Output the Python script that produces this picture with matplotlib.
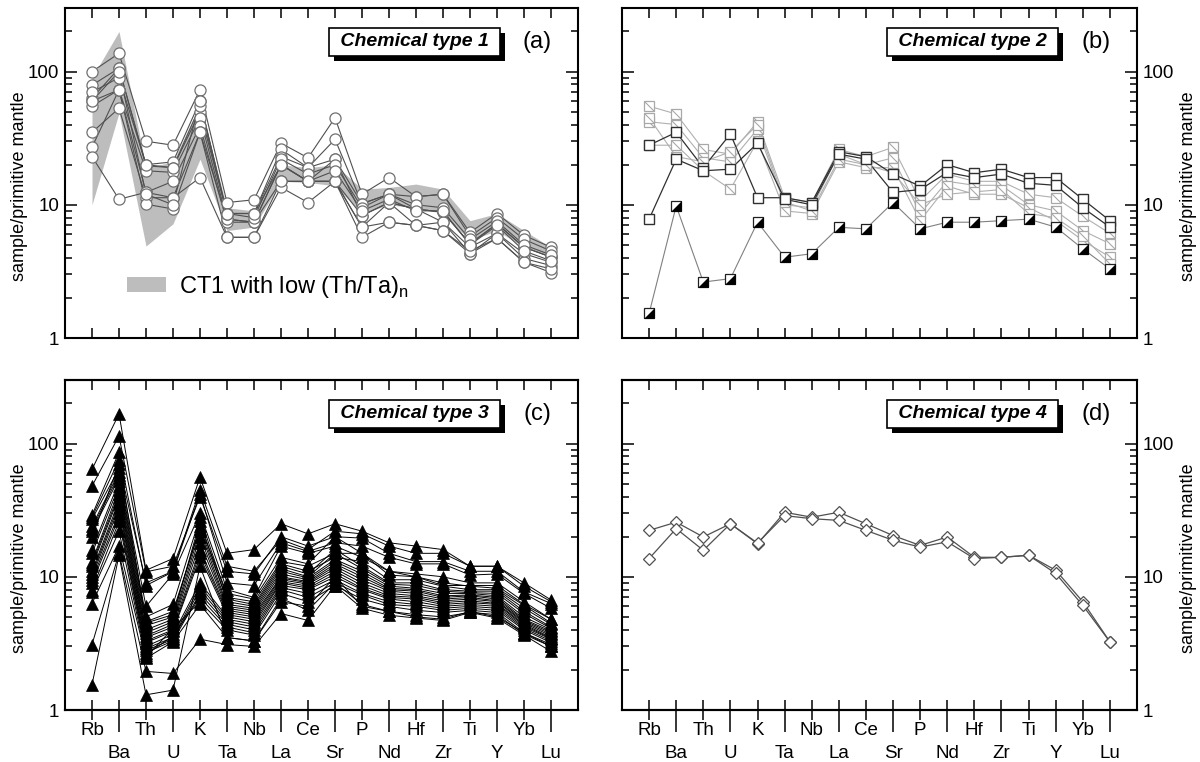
import matplotlib
matplotlib.use("Agg")
import matplotlib.pyplot as plt
from matplotlib.patches import Patch, Rectangle
from matplotlib.ticker import NullFormatter

plt.rcParams['font.family'] = ['Liberation Sans', 'DejaVu Sans']
plt.rcParams['mathtext.fontset'] = 'custom'
plt.rcParams['mathtext.rm'] = 'Liberation Sans'

# Elements (x axis)
elements = ["Rb", "Ba", "Th", "U", "K", "Ta", "Nb", "La", "Ce", "Sr",
            "P", "Nd", "Hf", "Zr", "Ti", "Y", "Yb", "Lu"]

# Chemical type 1 samples
ct1 = [
    [100, 137, 30, 28, 73, 10.4, 10.9, 29, 22.5, 45, 12, 16, 11.5, 12, 6.2, 8.6, 5.9, 4.8],
    [79, 106, 20, 21, 60, 8.6, 8.6, 26, 19, 31, 10.2, 12, 11.5, 12, 5.8, 8.0, 5.5, 4.5],
    [63, 106, 19.6, 19, 50, 8.6, 8.6, 23, 19, 22, 10.2, 12, 9.3, 8.8, 5.1, 7.2, 4.8, 4.05],
    [60, 73, 18, 17.5, 45, 7.8, 7.4, 20, 15, 22, 8.3, 10.4, 9.3, 8.8, 5.1, 7.2, 4.8, 4.05],
    [55, 73, 12.4, 15, 39, 7.4, 7.4, 20, 15, 15, 8.3, 10.4, 9.3, 7.4, 4.8, 6.1, 4.3, 3.7],
    [35, 53, 11.3, 11.3, 35, 7.8, 7.4, 15, 15, 15, 6.8, 10.4, 7.0, 7.4, 4.3, 6.1, 3.95, 3.5],
    [27, 73, 10.1, 9.3, 35, 5.7, 5.7, 13.5, 10.4, 15, 5.7, 7.4, 7.0, 6.4, 4.3, 5.6, 3.7, 3.1],
    [23, 11, 12.4, 11.3, 16, 5.7, 5.7, 15, 15, 15, 6.8, 7.4, 7.0, 6.4, 4.5, 5.6, 3.7, 3.3],
    [70, 90, 20, 19, 55, 8.6, 8.0, 22, 17, 20, 9.5, 12, 10, 9.5, 5.5, 7.5, 5.0, 4.2],
    [60, 100, 12, 10, 60, 8.6, 8.6, 20, 15, 18, 9.0, 11, 9.0, 9.0, 5.0, 7.0, 4.5, 3.8],
]
# CT1 with low (Th/Ta)n envelope
band_hi = [90, 200, 19, 21, 57, 9.5, 9.0, 20, 19, 20, 13.1, 13.5, 14.3, 13.1, 7.6, 8.6, 6.4, 4.8]
band_lo = [10, 49, 4.9, 7.2, 22, 6.4, 6.8, 15, 14.7, 13.9, 8.6, 10, 9.5, 8.6, 5.4, 6.4, 4.8, 4.05]

# Chemical type 2 samples
ct2_dark = [
    [28, 35, 19, 34, 11.3, 11.3, 10.4, 25, 23, 17, 13.8, 20, 17.4, 18.5, 16, 16, 11, 7.6],
    [7.8, 22, 18, 18.5, 29, 11, 10, 24, 22, 12.4, 13, 17.5, 16, 17, 14.5, 14, 9.5, 6.8],
]
ct2_gray = [
    [55, 48, 26, 24, 42, 11.3, 10.4, 26, 23, 27, 10.7, 17, 15, 15, 12, 11.3, 8.2, 6.1],
    [42, 40, 22.5, 21, 37, 10, 9.5, 24, 20, 22.5, 8.6, 15, 14, 14, 10, 9, 6.4, 5.1],
    [28, 28, 18, 13.1, 30, 9, 8.6, 21, 19, 19, 7.6, 13.8, 12, 12, 9.5, 7.6, 5.4, 4.05],
    [45, 23, 21, 25, 40, 10.5, 9, 22, 20, 17.4, 10, 12, 12.5, 13, 8.6, 8, 5.8, 3.6],
]
ct2_half = [1.53, 9.8, 2.63, 2.79, 7.4, 4.04, 4.29, 6.77, 6.6, 10.4, 6.6, 7.4, 7.4, 7.6, 7.8, 6.8, 4.67, 3.3]

# Chemical type 3 samples
ct3 = [
    [64, 167, 11.2, 13.7, 56, 15, 16, 25, 21, 25, 22, 18, 17, 16, 12, 12, 9, 6.7],
    [48, 114, 10.9, 12, 40, 11, 10.5, 20, 17, 20, 19.5, 15, 13, 13, 11, 11, 7.7, 6.3],
    [29, 86, 8.6, 10.9, 42, 9, 8.6, 18, 15.5, 18, 17, 14, 12.5, 12.5, 10.3, 10.5, 7.5, 5.8],
    [20, 70, 9, 11, 45, 12, 11, 19, 16, 22, 21, 17, 15, 15, 12, 12, 8.5, 6.5],
    [27, 65, 6, 10.5, 30, 8, 7, 17, 15, 17, 14, 11, 10, 8.6, 8.6, 8.6, 6.2, 4.8],
    [28, 75, 4.5, 5.2, 24, 7.5, 6.8, 14, 12.5, 20, 15, 11, 10.5, 10, 9, 9, 6.5, 4.8],
    [24, 61, 5.0, 6.2, 28, 7, 6.5, 13, 12, 15, 15, 10.3, 10, 9, 8.5, 8.2, 6.1, 4.5],
    [23, 58, 4.6, 5.5, 23, 6.8, 6.2, 12.5, 11, 14, 13, 9.5, 9.5, 8.5, 8, 8, 5.8, 4.4],
    [22, 55, 4.3, 5.0, 26, 6.5, 6.0, 12, 10.5, 16, 12, 9, 9, 8, 7.8, 7.8, 5.5, 4.2],
    [16, 52, 4.0, 4.8, 22, 6.2, 5.8, 11.5, 10, 15, 11.5, 8.8, 8.6, 7.8, 7.6, 7.5, 5.3, 4.1],
    [15, 48, 3.8, 4.6, 20, 6.0, 5.6, 11, 9.8, 13.5, 11, 8.5, 8.2, 7.5, 7.5, 7.2, 5.0, 4.0],
    [13, 45, 3.6, 4.4, 18, 5.8, 5.4, 10.5, 9.5, 13, 10.5, 8.2, 8, 7.2, 7.3, 7, 4.8, 3.9],
    [12.5, 42, 3.5, 4.2, 16, 5.6, 5.2, 10, 9.2, 12.5, 10, 8.0, 7.8, 7, 7.2, 6.8, 4.7, 3.8],
    [12, 40, 3.3, 4.0, 15, 5.4, 5.0, 9.8, 9, 12, 9.5, 7.8, 7.5, 6.8, 7, 6.6, 4.6, 3.7],
    [11, 37, 3.2, 3.9, 14, 5.2, 4.8, 9.5, 8.8, 11.5, 9, 7.5, 7.2, 6.6, 6.8, 6.5, 4.5, 3.6],
    [10.5, 35, 3.0, 3.7, 9, 5.0, 4.6, 9.2, 8.5, 11, 8.6, 7.2, 7, 6.4, 6.6, 6.3, 4.4, 3.5],
    [10, 33, 2.9, 3.5, 8.5, 4.8, 4.4, 9, 8.2, 10.5, 8.2, 7, 6.8, 6.2, 6.4, 6.2, 4.3, 3.45],
    [9.5, 30, 2.8, 3.4, 8, 4.6, 4.2, 8.6, 8, 10, 8, 6.8, 6.5, 6, 6.2, 6, 4.2, 3.4],
    [9, 28, 2.7, 3.3, 7.5, 4.4, 4.0, 8.3, 7.5, 9.5, 7.5, 6.5, 6.2, 5.8, 6, 5.8, 4.1, 3.3],
    [8, 26, 2.6, 3.6, 7, 4.2, 3.8, 8, 7, 9, 7.3, 6.2, 6, 5.6, 5.8, 5.6, 4.0, 3.2],
    [7.7, 22, 2.5, 4.1, 6.5, 4.0, 3.65, 7.5, 6.5, 8.6, 6.8, 6, 5.6, 5.4, 5.6, 5.4, 3.8, 3.1],
    [6.3, 17, 2.45, 3.25, 6.2, 3.5, 3.3, 6.9, 5.6, 9, 6.2, 5.5, 5.2, 5, 5.4, 5.2, 3.7, 3.0],
    [3.1, 15, 1.95, 1.88, 3.4, 3.1, 3.0, 5.3, 4.7, 8.6, 5.8, 5.15, 4.9, 4.7, 5.4, 4.9, 3.65, 2.75],
    [1.55, 14.5, 1.3, 1.41, 12, 3.5, 3.3, 6.5, 6, 10, 6, 5.5, 5, 4.8, 5.5, 5, 3.8, 3.0],
]

# Chemical type 4 samples
ct4 = [
    [22.3, 25.7, 19.9, 25, 17.7, 30.5, 28, 30.5, 25, 20.4, 17.2, 19.9, 14, 14, 14.5, 11.2, 6.5, 3.25],
    [13.7, 23, 15.8, 25, 17.9, 28.8, 27.3, 26.5, 22.3, 18.8, 16.7, 18.3, 13.7, 14, 14.5, 10.6, 6.1, 3.25],
]

titles = ["Chemical type 1", "Chemical type 2", "Chemical type 3", "Chemical type 4"]
letters = ["(a)", "(b)", "(c)", "(d)"]

x = list(range(len(elements)))
diag = [(-1, 1), (1, -1)]
half = [(-1, -1), (1, -1), (1, 1)]

fig = plt.figure(figsize=(12, 7.62), dpi=100)
rects = [
    [0.05417, 0.55643, 0.4275, 0.43307],
    [0.51833, 0.55643, 0.42917, 0.43307],
    [0.05417, 0.06824, 0.4275, 0.43307],
    [0.51833, 0.06824, 0.42917, 0.43307],
]
axes = [fig.add_axes(r) for r in rects]
title_texts = []


def style_axis(ax, i):
    ax.set_yscale('log')
    ax.set_ylim(1, 300)
    ax.set_xlim(-1, 18)
    for sp in ax.spines.values():
        sp.set_linewidth(1.5)
    ax.set_yticks([1, 10, 100], labels=["1", "10", "100"])
    ax.yaxis.set_minor_formatter(NullFormatter())
    ax.tick_params(axis='y', which='both', direction='in', left=True, right=True,
                   width=1.1, labelsize=13.5, pad=4)
    ax.tick_params(axis='y', which='major', length=8.6)
    ax.tick_params(axis='y', which='minor', length=5)
    if i in (1, 3):
        ax.tick_params(axis='y', which='both', labelleft=False, labelright=True)
        ax.yaxis.set_label_position('right')
        ax.set_ylabel("sample/primitive mantle", fontsize=13)
        ax.yaxis.set_label_coords(1.083, 0.46)
    else:
        ax.set_ylabel("sample/primitive mantle", fontsize=13)
        ax.yaxis.set_label_coords(-0.072, 0.46)

    if i < 2:
        ax.set_xticks(x)
        ax.tick_params(axis='x', which='both', direction='in', top=True, bottom=True,
                       length=7.2, width=1.1, labelbottom=False)
    else:
        ax.set_xticks(x[0::2], labels=elements[0::2])
        ax.set_xticks(x[1::2], labels=elements[1::2], minor=True)
        ax.tick_params(axis='x', which='major', direction='out', length=7.2,
                       width=1.1, pad=1.5, labelsize=13.5, top=False)
        ax.tick_params(axis='x', which='minor', direction='out', length=15.8,
                       width=1.1, pad=9.5, labelsize=13.5, top=False)
        for loc in ('top', 'bottom'):
            sec = ax.secondary_xaxis(loc)
            sec.set_xticks(x)
            sec.tick_params(direction='in', length=7.2, width=1.1,
                            labeltop=False, labelbottom=False)
            sec.spines[loc].set_linewidth(1.5)

    t = ax.text(0.681, 0.897, " " + titles[i] + " ", transform=ax.transAxes,
                ha='center', va='center', fontsize=14, fontweight='bold',
                style='italic', color='black', zorder=10,
                bbox=dict(boxstyle='square,pad=0.3', fc='white', ec='black', lw=1.2))
    title_texts.append((ax, t))
    ax.text(0.921, 0.897, letters[i], transform=ax.transAxes, ha='center', va='center',
            fontsize=17, zorder=10)


for i, ax in enumerate(axes):
    style_axis(ax, i)

# (a) chemical type 1
ax = axes[0]
ax.fill_between(x, band_lo, band_hi, color='#bdbdbd', lw=0, zorder=1)
for s in ct1:
    ax.plot(x, s, '-', color='#505050', lw=0.8, zorder=2)
for s in ct1:
    ax.plot(x, s, 'o', ms=8, mfc='white', mec='#707070', mew=0.9, zorder=3)
ax.legend(handles=[Patch(facecolor='#bdbdbd', edgecolor='none',
                         label=r"CT1 with low (Th/Ta)$_\mathregular{n}$")],
          loc='center left', bbox_to_anchor=(0.121, 0.155), frameon=False,
          fontsize=17, handlelength=1.65, handleheight=0.55, handletextpad=0.55,
          borderpad=0, borderaxespad=0)

# (b) chemical type 2
ax = axes[1]
for s in ct2_gray:
    ax.plot(x, s, '-', color='#b0b0b0', lw=0.8, zorder=2)
ax.plot(x, ct2_half, '-', color='#808080', lw=0.8, zorder=2)
for s in ct2_dark:
    ax.plot(x, s, '-', color='#303030', lw=0.9, zorder=2)
for s in ct2_gray:
    ax.plot(x, s, 's', ms=7.5, mfc='white', mec='#a8a8a8', mew=0.9, zorder=3)
    ax.plot(x, s, marker=diag, ls='none', ms=7.5, mec='#a8a8a8', mew=0.8, zorder=3)
for s in ct2_dark:
    ax.plot(x, s, 's', ms=7.5, mfc='white', mec='#303030', mew=1.0, zorder=4)
ax.plot(x, ct2_half, 's', ms=7.5, mfc='white', mec='#202020', mew=0.9, zorder=4)
ax.plot(x, ct2_half, marker=half, ls='none', ms=7.5, mfc='black', mec='black', mew=0.5, zorder=5)

# (c) chemical type 3
ax = axes[2]
for s in ct3:
    ax.plot(x, s, '-', color='black', lw=0.7, zorder=2)
for s in ct3:
    ax.plot(x, s, '^', ms=8, mfc='black', mec='black', mew=0.5, zorder=3)

# (d) chemical type 4
ax = axes[3]
for s in ct4:
    ax.plot(x, s, '-', color='#505050', lw=0.9, zorder=2)
for s in ct4:
    ax.plot(x, s, 'D', ms=6.3, mfc='white', mec='#505050', mew=0.9, zorder=3)

# drop shadows behind the title boxes
fig.canvas.draw()
for ax, t in title_texts:
    bb = t.get_bbox_patch().get_window_extent()
    ax.add_patch(Rectangle((bb.x0 + 5, bb.y0 - 5), bb.width, bb.height,
                           transform=None, fc='black', ec='black', lw=0,
                           zorder=9, clip_on=False))

fig.savefig("out.png", dpi=100)
